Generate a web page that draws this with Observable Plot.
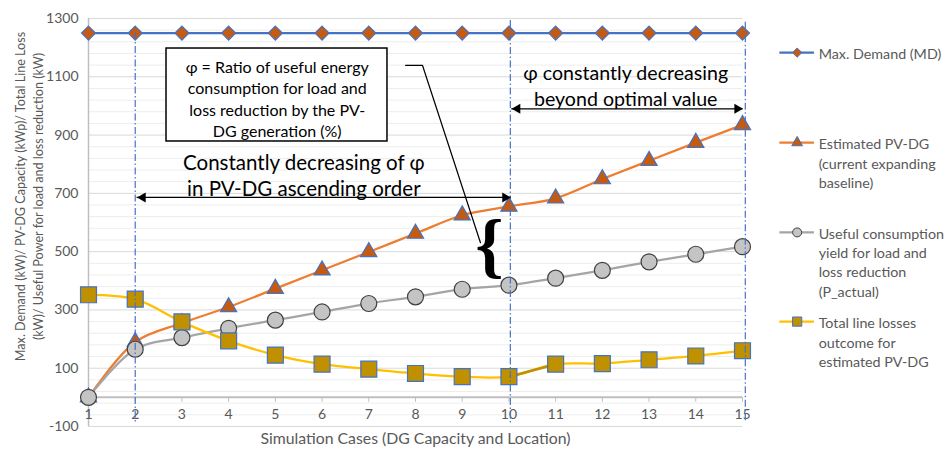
<!DOCTYPE html>
<html><head><meta charset="utf-8">
<script src="https://cdn.jsdelivr.net/npm/d3@7"></script>
<script src="https://cdn.jsdelivr.net/npm/@observablehq/plot@0.6"></script>
<style>body{margin:0;background:#fff} #chart{width:947px;height:455px}</style>
</head><body><div id="chart"></div>
<script>
// ---- data ----
const cases = [1,2,3,4,5,6,7,8,9,10,11,12,13,14,15];
const maxDemand = [1250,1250,1250,1250,1250,1250,1250,1250,1250,1250,1250,1250,1250,1250,1250];
const pvdg = [0,190,255,310,373,436,499,562,625,655,683,749,812,874,935];
const useful = [0,165,205,237,265,293,322,345,371,385,409,436,465,491,517];
const losses = [352,337,259,194,145,114,97,82,71,71,114,116,129,142,160];
const majorTicks = [-100,100,300,500,700,900,1100,1300];
const minorTicks = [-60,-20,20,60,140,180,220,260,340,380,420,460,540,580,620,660,740,780,820,860,940,980,1020,1060,1140,1180,1220,1260];
const seriesNames = ["Max. Demand (MD)", "Estimated PV-DG\n(current expanding\nbaseline)", "Useful consumption\nyield for load and\nloss reduction\n(P_actual)", "Total line losses\noutcome for\nestimated PV-DG"];
const xTitle = "Simulation Cases (DG Capacity and Location)";
const yTitle = "Max. Demand (kW)/ PV-DG Capacity (kWp)/ Total Line Loss\n(kW)/ Useful Power for load and loss reduction (kW)";
const boxText = "φ = Ratio of useful energy\nconsumption for load and\nloss reduction by the PV-\nDG generation (%)";
const noteLeft = "Constantly decreasing of φ\nin PV-DG ascending order";
const noteRight = "φ constantly decreasing\nbeyond optimal value";

// ---- styles / layout ----
const styles = [
  {line:"#4472c4", fill:"#c55a11", stroke:"#4472c4", symbol:"diamond2", r:6.3, lr:4.2},
  {line:"#ed7d31", fill:"#c55a11", stroke:"#4472c4", symbol:"triangle", r:6.0, lr:4.0},
  {line:"#a5a5a5", fill:"#c4c4c4", stroke:"#404040", symbol:"circle", r:8, lr:4.5},
  {line:"#ffc000", fill:"#bf9000", stroke:"#4472c4", symbol:"square", r:9, lr:5.2}
];
const seriesValues = [maxDemand, pvdg, useful, losses];
const series = seriesValues.map((vals, s) => cases.map((c, i) => ({x: c, y: vals[i], s})));
const lossJoin = [{x: 10, y: losses[9]}, {x: 11, y: losses[10]}];

const legendSymbolY = [1183, 874, 566, 260];
const legendTextY = [1183, 806, 466, 192];
const legendX = {x1: 15.80, x2: 16.54, sym: 16.17, text: 16.63};

const dashLines = [{x: 2, top: 1250}, {x: 10.03, top: 1293}, {x: 15.06, top: 1287}];
const arrows = [{x1: 2.04, x2: 10.04, y: 686}, {x1: 10.06, x2: 15.01, y: 990}];
const box = {x1: 2.67, x2: 7.40, y1: 1197, y2: 878, cx: 5.04, cy: 1027};
const leader = [{x: 7.79, y: 1139}, {x: 8.15, y: 1139}, {x: 9.39, y: 531}];

const font = "Lato, 'Open Sans', sans-serif";
const marks = [
  Plot.ruleY(minorTicks, {stroke: "#ededed", strokeWidth: 1}),
  Plot.ruleY(majorTicks, {stroke: "#d9d9d9", strokeWidth: 1}),
  Plot.ruleX([1], {stroke: "#bfbfbf", strokeWidth: 1.5}),
  Plot.ruleY([0], {stroke: "#bfbfbf", strokeWidth: 2}),
  Plot.ruleX(cases, {x: d => d, y1: 0, y2: -17, stroke: "#bfbfbf"}),
  Plot.text(cases, {x: d => d, frameAnchor: "bottom", dy: -8, text: d => String(d), fill: "#595959", fontSize: 14}),
];
series.forEach((data, s) => {
  const st = styles[s];
  marks.push(Plot.line(data, {x: "x", y: "y", stroke: st.line, strokeWidth: 2.25, curve: "catmull-rom"}));
  if (s === 3) marks.push(Plot.line(lossJoin, {x: "x", y: "y", stroke: "#bf9000", strokeWidth: 2.6}));
  marks.push(Plot.dot(data, {x: "x", y: "y", symbol: st.symbol, r: st.r, fill: st.fill, stroke: st.stroke, strokeWidth: 1.2}));
  // legend
  marks.push(Plot.ruleY([legendSymbolY[s]], {x1: legendX.x1, x2: legendX.x2, stroke: st.line, strokeWidth: 2.25}));
  marks.push(Plot.dot([legendSymbolY[s]], {x: legendX.sym, y: d => d, symbol: st.symbol, r: st.lr, fill: st.fill, stroke: st.stroke, strokeWidth: 1}));
  marks.push(Plot.text([seriesNames[s]], {x: legendX.text, y: legendTextY[s], text: d => d, textAnchor: "start", fill: "#595959", fontSize: 14.3, lineHeight: 1.36}));
});
marks.push(
  Plot.ruleX(dashLines, {x: "x", y1: "top", y2: -88, stroke: "#4472c4", strokeWidth: 1.2, strokeDasharray: "7 2.5 1.5 2.5"}),
  Plot.rect([box], {x1: "x1", x2: "x2", y1: "y1", y2: "y2", fill: "white", stroke: "black", strokeWidth: 1.5}),
  Plot.text([boxText], {x: box.cx, y: box.cy, text: d => d, fill: "black", fontSize: 16, lineHeight: 1.35}),
  Plot.line(leader, {x: "x", y: "y", stroke: "black", strokeWidth: 1.3}),
  Plot.text(["{"], {x: 9.585, y: 518, text: d => d, fill: "black", fontSize: 72, fontWeight: "bold", fontFamily: "'Liberation Serif', serif"}),
  Plot.text([noteLeft], {x: 5.61, y: 763, text: d => d, fill: "black", fontSize: 20.5, lineHeight: 1.24}),
  Plot.text([noteRight], {x: 12.5, y: 1073, text: d => d, fill: "black", fontSize: 19.6, lineHeight: 1.3}),
  Plot.ruleY(arrows, {x1: "x1", x2: "x2", y: "y", stroke: "black", strokeWidth: 1.3}),
  Plot.dot(arrows, {x: "x2", y: "y", symbol: "triangle", rotate: 90, r: 3.7, fill: "black", dx: -5.7}),
  Plot.dot(arrows, {x: "x1", y: "y", symbol: "triangle", rotate: -90, r: 3.7, fill: "black", dx: 5.7}),
  Plot.text([xTitle], {frameAnchor: "bottom", dy: 17, text: d => d, fill: "#595959", fontSize: 15.8}),
  Plot.text([yTitle], {frameAnchor: "left", textAnchor: "middle", dx: -60, dy: -26, rotate: -90, text: d => d, fill: "#595959", fontSize: 12.6, lineHeight: 1.42})
);

const chart = Plot.plot({
  width: 947, height: 455,
  marginLeft: 88, marginRight: 205, marginTop: 18, marginBottom: 29,
  style: {fontFamily: font, fontSize: "14px", color: "#595959", background: "white", overflow: "visible"},
  x: {type: "linear", domain: [1, 15], axis: null},
  y: {domain: [-100, 1300], ticks: majorTicks, tickSize: 0, tickPadding: 10, tickFormat: d => String(d), label: null},
  marks
});
document.getElementById("chart").appendChild(chart);
</script>
</body></html>
